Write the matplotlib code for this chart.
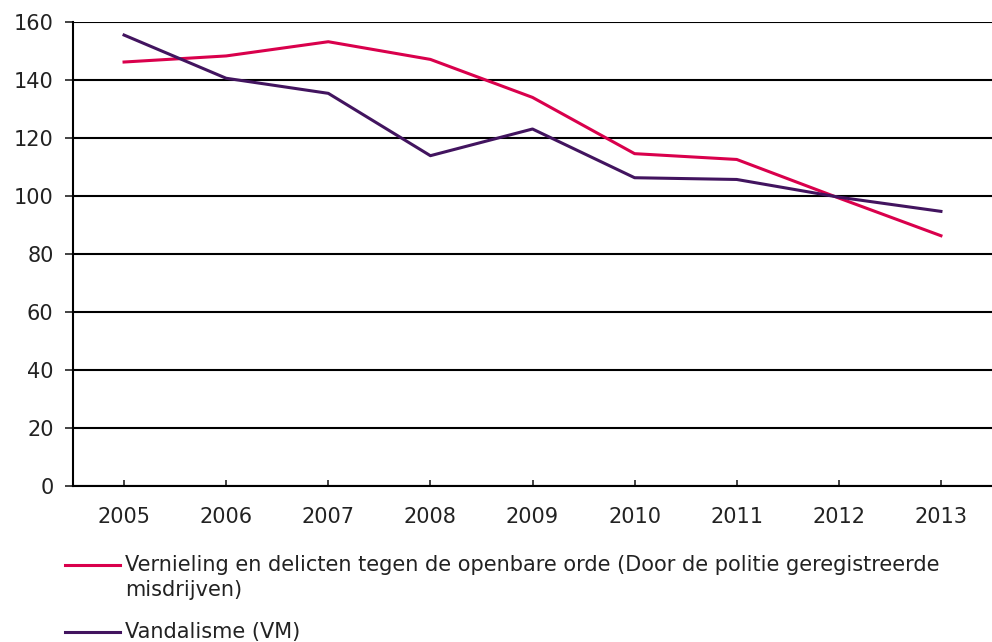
import matplotlib.pyplot as plt
from matplotlib.lines import Line2D

years = ['2005', '2006', '2007', '2008', '2009', '2010', '2011', '2012', '2013']
vernieling = [146.2, 148.3, 153.2, 147.1, 134.0, 114.6, 112.6, 99.3, 86.3]
vandalisme = [155.5, 140.6, 135.4, 113.9, 123.1, 106.3, 105.7, 99.6, 94.7]
series_names = ['Vernieling en delicten tegen de openbare orde (Door de politie geregistreerde\nmisdrijven)',
                'Vandalisme (VM)']
colors = ['#D9004C', '#42145F']

plt.rcParams['font.family'] = ['DejaVu Sans']
plt.rcParams['font.size'] = 15

fig = plt.figure(figsize=(9.92, 6.42), dpi=100)
ax = fig.add_axes([73 / 992, 1 - 486 / 642, 1 - 73 / 992, (486 - 22) / 642])

x = range(len(years))
ax.plot(x, vernieling, color=colors[0], lw=2.2, zorder=3)
ax.plot(x, vandalisme, color=colors[1], lw=2.2, zorder=3)

ax.set_xlim(-0.5, len(years) - 0.5)
ax.set_ylim(0, 160)
ax.set_yticks(range(0, 161, 20))
ax.set_xticks(list(x))
ax.set_xticklabels(years)
ax.yaxis.grid(True, color='black', lw=1.5)
ax.set_axisbelow(True)

for s in ['top', 'right']:
    ax.spines[s].set_visible(False)
for s in ['left', 'bottom']:
    ax.spines[s].set_linewidth(1.5)

ax.tick_params(axis='y', direction='out', length=6, width=1.2, pad=8, colors='#222222')
ax.tick_params(axis='x', direction='in', length=4, width=1.2, pad=15, colors='#222222')

# legend below the chart
legend_y = [565, 632]
for name, col, yy in zip(series_names, colors, legend_y):
    fy = 1 - yy / 642
    fig.add_artist(Line2D([65 / 992, 120 / 992], [fy, fy], color=col, lw=2.2,
                          transform=fig.transFigure))
    fig.text(125 / 992, fy + 0.015, name, ha='left', va='top', color='#222222',
             linespacing=1.3)

fig.savefig('out.png', dpi=100)
